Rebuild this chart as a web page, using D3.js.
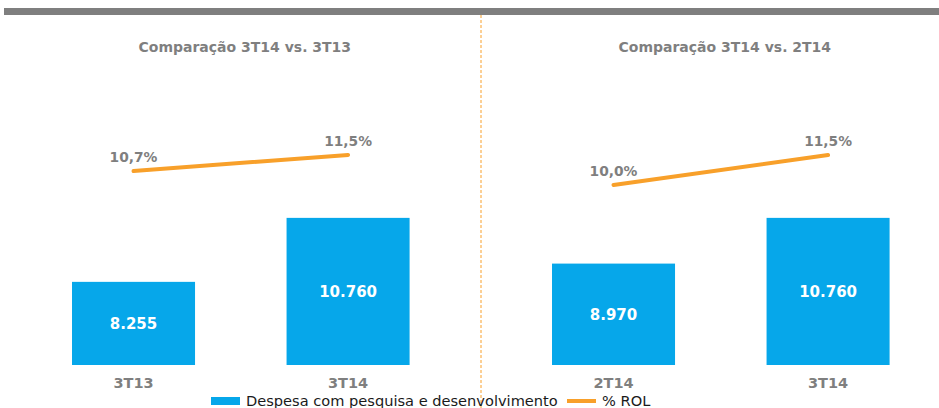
<!DOCTYPE html>
<html><head><meta charset="utf-8">
<script src="https://cdn.jsdelivr.net/npm/d3@7"></script>
<style>body{margin:0;background:#fff}svg{display:block}</style>
</head><body>
<svg id="c" width="939" height="408"></svg>
<script>
const titles = ["Comparação 3T14 vs. 3T13", "Comparação 3T14 vs. 2T14"];
const categoriesLeft = ["3T13", "3T14"];
const categoriesRight = ["2T14", "3T14"];
const despesaLeft = [8255, 10760];
const despesaRight = [8970, 10760];
const rolLeft = [10.7, 11.5];
const rolRight = [10.0, 11.5];
const valueLabelsLeft = ["8.255", "10.760"];
const valueLabelsRight = ["8.970", "10.760"];
const rolLabelsLeft = ["10,7%", "11,5%"];
const rolLabelsRight = ["10,0%", "11,5%"];
const legendLabels = ["Despesa com pesquisa e desenvolvimento", "% ROL"];

const BLUE = "#06A7EA", ORANGE = "#F8A02A", GRAY = "#7F7F7F";
const FONT = "DejaVu Sans, Verdana, sans-serif";
const svg = d3.select("#c");

svg.append("rect").attr("x", 4).attr("y", 8).attr("width", 935).attr("height", 7).attr("fill", GRAY);
svg.append("line").attr("x1", 481).attr("x2", 481).attr("y1", 15).attr("y2", 408)
  .attr("stroke", ORANGE).attr("stroke-width", 1).attr("stroke-dasharray", "3,2");

const y = d3.scaleLinear().domain([5000, 12000]).range([365, 186.2]);
const yp = d3.scaleLinear().domain([2, 12]).range([345, 145]);

const panels = [
  {off: 0, cats: categoriesLeft, vals: despesaLeft, rol: rolLeft, vl: valueLabelsLeft, rl: rolLabelsLeft, title: titles[0]},
  {off: 480, cats: categoriesRight, vals: despesaRight, rol: rolRight, vl: valueLabelsRight, rl: rolLabelsRight, title: titles[1]}
];

panels.forEach(p => {
  const g = svg.append("g").attr("transform", `translate(${p.off},0)`);
  const x = d3.scaleBand().domain(p.cats).range([29.1, 452.5]).paddingInner(0.4266).paddingOuter(0.2);
  const data = p.cats.map((c, i) => ({c, v: p.vals[i], r: p.rol[i], vl: p.vl[i], rl: p.rl[i]}));

  g.append("text").attr("x", (x.range()[0] + x.range()[1]) / 2 + 4).attr("y", 52)
    .attr("text-anchor", "middle").attr("font-family", FONT).attr("font-weight", "bold")
    .attr("font-size", 14).attr("fill", GRAY).text(p.title);

  g.selectAll("rect.bar").data(data).join("rect").attr("class", "bar")
    .attr("x", d => x(d.c)).attr("width", x.bandwidth())
    .attr("y", d => y(d.v)).attr("height", d => y(5000) - y(d.v)).attr("fill", BLUE);

  g.selectAll("text.vl").data(data).join("text").attr("class", "vl")
    .attr("x", d => x(d.c) + x.bandwidth() / 2).attr("y", d => (y(d.v) + y(5000)) / 2 + 5.5)
    .attr("text-anchor", "middle").attr("font-family", FONT).attr("font-weight", "bold")
    .attr("font-size", 15).attr("fill", "#fff").text(d => d.vl);

  const line = d3.line().x(d => x(d.c) + x.bandwidth() / 2).y(d => yp(d.r));
  g.append("path").datum(data).attr("d", line).attr("fill", "none")
    .attr("stroke", ORANGE).attr("stroke-width", 4).attr("stroke-linecap", "round");

  g.selectAll("text.rl").data(data).join("text").attr("class", "rl")
    .attr("x", d => x(d.c) + x.bandwidth() / 2).attr("y", d => yp(d.r) - 9)
    .attr("text-anchor", "middle").attr("font-family", FONT).attr("font-weight", "bold")
    .attr("font-size", 13.8).attr("fill", GRAY).text(d => d.rl);

  const ax = g.append("g").attr("transform", "translate(0,365)")
    .call(d3.axisBottom(x).tickSize(0).tickPadding(13));
  ax.select(".domain").remove();
  ax.selectAll("text").attr("font-family", FONT).attr("font-weight", "bold")
    .attr("font-size", 14.5).attr("fill", GRAY);
});

const lg = svg.append("g");
lg.append("rect").attr("x", 211).attr("y", 397).attr("width", 29).attr("height", 8).attr("fill", BLUE);
lg.append("text").attr("x", 246).attr("y", 406).attr("font-family", FONT).attr("font-size", 14.6)
  .attr("fill", "#1a1a1a").text(legendLabels[0]);
lg.append("line").attr("x1", 567).attr("x2", 596).attr("y1", 401).attr("y2", 401)
  .attr("stroke", ORANGE).attr("stroke-width", 4);
lg.append("text").attr("x", 602).attr("y", 406).attr("font-family", FONT).attr("font-size", 14.6)
  .attr("fill", "#1a1a1a").text(legendLabels[1]);
</script>
</body></html>
